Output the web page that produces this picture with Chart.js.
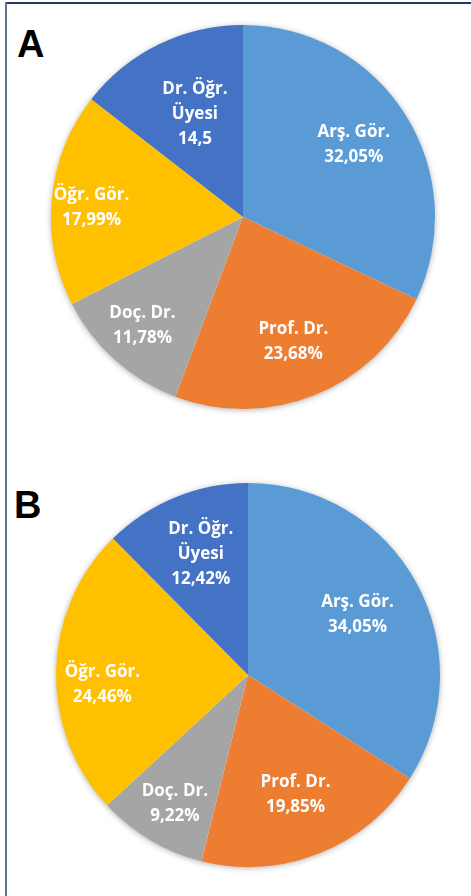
<!DOCTYPE html>
<html>
<head>
<meta charset="utf-8">
<script src="https://cdn.jsdelivr.net/npm/chart.js@4.4.1/dist/chart.umd.min.js"></script>
<style>
html, body { margin: 0; padding: 0; background: #fff; }
body { width: 471px; height: 896px; position: relative; overflow: hidden; }
.frame-top { position: absolute; left: 5px; top: 2px; right: 0; height: 2px; background: #1f3a60; }
.frame-left { position: absolute; left: 5px; top: 2px; bottom: 0; width: 2px; background: #61728f; }
.tag { position: absolute; font-family: "Liberation Sans", Arial, sans-serif; font-weight: bold;
       font-size: 38px; line-height: 38px; color: #000; }
canvas { position: absolute; }
</style>
</head>
<body>
<div class="frame-top"></div>
<div class="frame-left"></div>
<div class="tag" style="left:17px;top:25px">A</div>
<div class="tag" style="left:14px;top:486px">B</div>
<canvas id="pieA" width="400" height="400" style="left:43px;top:17px"></canvas>
<canvas id="pieB" width="400" height="400" style="left:48px;top:475px"></canvas>
<script>
const categories = ['Arş. Gör.', 'Prof. Dr.', 'Doç. Dr.', 'Öğr. Gör.', ['Dr. Öğr.', 'Üyesi']];
const valuesA = [32.05, 23.68, 11.78, 17.99, 14.5];
const valuesB = [34.05, 19.85, 9.22, 24.46, 12.42];
const valueTextA = ['32,05%', '23,68%', '11,78%', '17,99%', '14,5'];
const valueTextB = ['34,05%', '19,85%', '9,22%', '24,46%', '12,42%'];
const colors = ['#5B9BD5', '#ED7D31', '#A5A5A5', '#FFC000', '#4472C4'];

// soft shadow under the whole pie
const pieShadow = {
    id: 'pieShadow',
    beforeDatasetsDraw(chart) {
        const arc = chart.getDatasetMeta(0).data[0];
        const ctx = chart.ctx;
        ctx.save();
        ctx.shadowColor = 'rgba(0,0,0,0.35)';
        ctx.shadowBlur = 6;
        ctx.shadowOffsetY = 1;
        ctx.fillStyle = '#fff';
        ctx.beginPath();
        ctx.arc(arc.x, arc.y, arc.outerRadius - 0.5, 0, Math.PI * 2);
        ctx.fill();
        ctx.restore();
    }
};

// white labels inside the slices (radius = fraction of pie radius, turn = degrees off mid-angle)
const sliceLabels = {
    id: 'sliceLabels',
    afterDatasetsDraw(chart, args, opts) {
        const ctx = chart.ctx;
        ctx.save();
        ctx.fillStyle = '#fff';
        ctx.font = 'bold 17px "Open Sans"';
        ctx.textAlign = 'center';
        ctx.textBaseline = 'middle';
        chart.getDatasetMeta(0).data.forEach((arc, i) => {
            const mid = (arc.startAngle + arc.endAngle) / 2 + opts.turn[i] * Math.PI / 180;
            const r = arc.outerRadius * opts.radius[i];
            const x = arc.x + Math.cos(mid) * r;
            const y = arc.y + Math.sin(mid) * r;
            const lines = [].concat(chart.data.labels[i], opts.text[i]);
            lines.forEach((t, k) => {
                ctx.fillText(t, x, y + (k - (lines.length - 1) / 2) * 25);
            });
        });
        ctx.restore();
    }
};

function makePie(id, values, text, radius, turn) {
    return new Chart(document.getElementById(id), {
        type: 'pie',
        data: {
            labels: categories,
            datasets: [{
                data: values,
                backgroundColor: colors,
                borderWidth: 0
            }]
        },
        options: {
            responsive: false,
            animation: false,
            devicePixelRatio: 1,
            layout: { padding: 8 },
            plugins: {
                legend: { display: false },
                tooltip: { enabled: false },
                sliceLabels: { text: text, radius: radius, turn: turn }
            }
        },
        plugins: [pieShadow, sliceLabels]
    });
}

makePie('pieA', valuesA, valueTextA, [0.69, 0.70, 0.77, 0.79, 0.59], [-1, 0, 1, -2, 1]);
makePie('pieB', valuesB, valueTextB, [0.65, 0.67, 0.77, 0.76, 0.675], [0, 0, -1, -5, 1]);
</script>
</body>
</html>
